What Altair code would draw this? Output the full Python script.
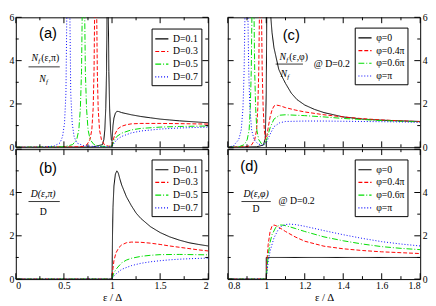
import altair as alt
import pandas as pd

W, H = 197, 133
SERIF = "Liberation Serif"
SANS = "Liberation Sans"

LAB_D = ["D=0.1", "D=0.3", "D=0.5", "D=0.7"]
LAB_P = ["φ=0", "φ=0.4π", "φ=0.6π", "φ=π"]
COLORS = ["#000000", "#ff0000", "#00dd00", "#0000ff"]
DASHES = [[1, 0], [4, 2], [6, 2, 1, 2], [1, 2]]

# ---------- panel (a): N_f(e,pi)/N_f ----------
a_x_01 = [0.0, 0.8, 0.9, 0.915, 0.925, 0.935, 0.943, 0.949, 0.955, 0.961, 0.967, 0.975, 0.985, 0.993, 1.0, 1.01, 1.02, 1.035, 1.05, 1.07, 1.1, 1.2, 1.3, 1.4, 1.5, 1.6, 1.7, 1.8, 1.9, 2.0]
a_y_01 = [0.0, 0.01, 0.12, 0.35, 0.8, 1.8, 3.5, 6.5, 10.0, 6.5, 3.5, 1.8, 0.8, 0.35, 0.3, 1.0, 1.35, 1.57, 1.66, 1.65, 1.6, 1.5, 1.42, 1.36, 1.3, 1.26, 1.22, 1.19, 1.16, 1.13]
a_x_03 = [0.0, 0.65, 0.7, 0.74, 0.77, 0.79, 0.804, 0.813, 0.82, 0.83, 0.84, 0.847, 0.856, 0.87, 0.89, 0.92, 0.96, 1.0, 1.01, 1.03, 1.06, 1.1, 1.15, 1.2, 1.3, 1.5, 1.7, 2.0]
a_y_03 = [0.0, 0.02, 0.04, 0.12, 0.35, 0.8, 1.8, 3.5, 6.5, 10.0, 6.5, 3.5, 1.8, 0.8, 0.35, 0.12, 0.05, 0.05, 0.3, 0.6, 0.85, 0.97, 1.04, 1.08, 1.1, 1.1, 1.09, 1.07]
a_x_05 = [0.0, 0.5, 0.59, 0.633, 0.655, 0.671, 0.683, 0.691, 0.703, 0.715, 0.723, 0.735, 0.751, 0.773, 0.813, 0.87, 0.95, 1.0, 1.02, 1.05, 1.1, 1.2, 1.3, 1.5, 1.7, 2.0]
a_y_05 = [0.0, 0.02, 0.12, 0.35, 0.8, 1.8, 3.5, 6.5, 10.0, 6.5, 3.5, 1.8, 0.8, 0.35, 0.12, 0.05, 0.03, 0.05, 0.3, 0.5, 0.65, 0.8, 0.87, 0.93, 0.96, 0.98]
a_x_07 = [0.0, 0.3, 0.4, 0.46, 0.486, 0.506, 0.521, 0.531, 0.546, 0.561, 0.571, 0.586, 0.606, 0.632, 0.7, 0.8, 0.9, 1.0, 1.02, 1.05, 1.1, 1.2, 1.3, 1.5, 1.7, 2.0]
a_y_07 = [0.0, 0.01, 0.06, 0.2, 0.5, 1.1, 2.5, 6.5, 10.0, 6.5, 2.5, 1.1, 0.5, 0.2, 0.08, 0.04, 0.03, 0.03, 0.18, 0.35, 0.5, 0.66, 0.75, 0.84, 0.89, 0.93]

# ---------- panel (b): D(e,pi)/D ----------
b_x_01 = [0.0, 1.0, 1.005, 1.01, 1.02, 1.035, 1.05, 1.065, 1.08, 1.1, 1.15, 1.2, 1.25, 1.3, 1.4, 1.5, 1.6, 1.7, 1.8, 1.9, 2.0]
b_y_01 = [0.0, 0.0, 2.0, 3.3, 4.3, 4.85, 5.0, 4.9, 4.65, 4.35, 3.8, 3.4, 3.05, 2.8, 2.42, 2.15, 1.95, 1.8, 1.68, 1.6, 1.53]
b_x_03 = [0.0, 1.0, 1.01, 1.02, 1.04, 1.07, 1.1, 1.15, 1.2, 1.3, 1.4, 1.5, 1.6, 1.7, 1.8, 1.9, 2.0]
b_y_03 = [0.0, 0.0, 0.5, 0.85, 1.2, 1.45, 1.58, 1.68, 1.71, 1.7, 1.66, 1.6, 1.53, 1.47, 1.41, 1.35, 1.3]
b_x_05 = [0.0, 1.0, 1.02, 1.05, 1.1, 1.15, 1.2, 1.3, 1.4, 1.5, 1.7, 1.85, 2.0]
b_y_05 = [0.0, 0.0, 0.3, 0.5, 0.75, 0.88, 0.96, 1.05, 1.1, 1.13, 1.14, 1.13, 1.12]
b_x_07 = [0.0, 1.0, 1.02, 1.05, 1.1, 1.2, 1.3, 1.4, 1.5, 1.6, 1.7, 1.85, 2.0]
b_y_07 = [0.0, 0.0, 0.15, 0.27, 0.45, 0.62, 0.73, 0.8, 0.85, 0.89, 0.92, 0.95, 0.97]

# ---------- panel (c): N_f(e,phi)/N_f @ D=0.2 ----------
c_x_0 = [0.8, 0.95, 0.985, 0.995, 1.0, 1.004, 1.015, 1.022, 1.03, 1.04, 1.05, 1.065, 1.08, 1.1, 1.13, 1.16, 1.2, 1.25, 1.3, 1.4, 1.5, 1.6, 1.7, 1.8]
c_y_0 = [0.0, 0.02, 0.1, 0.4, 2.5, 8.0, 7.5, 6.2, 5.3, 4.6, 4.2, 3.6, 3.3, 2.95, 2.5, 2.2, 1.95, 1.75, 1.6, 1.4, 1.3, 1.25, 1.22, 1.19]
c_x_04 = [0.8, 0.9, 0.925, 0.94, 0.95, 0.956, 0.961, 0.965, 0.97, 0.975, 0.979, 0.984, 0.99, 0.996, 1.0, 1.01, 1.02, 1.03, 1.04, 1.05, 1.07, 1.1, 1.15, 1.2, 1.3, 1.4, 1.5, 1.6, 1.7, 1.8]
c_y_04 = [0.0, 0.03, 0.12, 0.35, 0.8, 1.8, 3.5, 6.5, 10.0, 6.5, 3.5, 1.8, 0.8, 0.4, 0.35, 0.9, 1.4, 1.72, 1.9, 1.95, 1.92, 1.83, 1.72, 1.63, 1.5, 1.4, 1.32, 1.26, 1.22, 1.18]
c_x_06 = [0.8, 0.86, 0.886, 0.901, 0.911, 0.917, 0.922, 0.926, 0.931, 0.936, 0.94, 0.945, 0.951, 0.961, 0.976, 0.99, 1.0, 1.02, 1.04, 1.07, 1.1, 1.2, 1.3, 1.4, 1.5, 1.6, 1.7, 1.8]
c_y_06 = [0.0, 0.03, 0.12, 0.35, 0.8, 1.8, 3.5, 6.5, 10.0, 6.5, 3.5, 1.8, 0.8, 0.35, 0.15, 0.12, 0.3, 0.9, 1.3, 1.48, 1.5, 1.46, 1.4, 1.33, 1.28, 1.23, 1.2, 1.17]
c_x_pi = [0.8, 0.83, 0.837, 0.857, 0.87, 0.879, 0.885, 0.89, 0.897, 0.904, 0.909, 0.915, 0.924, 0.937, 0.957, 0.98, 1.0, 1.02, 1.04, 1.07, 1.1, 1.2, 1.3, 1.4, 1.5, 1.6, 1.7, 1.8]
c_y_pi = [0.01, 0.06, 0.15, 0.35, 0.8, 1.8, 3.5, 6.5, 10.0, 6.5, 3.5, 1.8, 0.8, 0.35, 0.15, 0.1, 0.2, 0.6, 0.95, 1.13, 1.19, 1.21, 1.21, 1.2, 1.19, 1.18, 1.17, 1.15]

# ---------- panel (d): D(e,phi)/D @ D=0.2 ----------
d_x_0 = [0.8, 1.0, 1.0, 1.8]
d_y_0 = [0.0, 0.0, 1.0, 1.0]
d_x_04 = [0.8, 1.0, 1.005, 1.01, 1.02, 1.03, 1.04, 1.05, 1.07, 1.1, 1.15, 1.2, 1.3, 1.4, 1.5, 1.6, 1.7, 1.8]
d_y_04 = [0.0, 0.0, 1.0, 1.6, 2.2, 2.45, 2.5, 2.47, 2.37, 2.2, 1.95, 1.75, 1.52, 1.4, 1.32, 1.26, 1.22, 1.18]
d_x_06 = [0.8, 1.0, 1.005, 1.01, 1.02, 1.03, 1.05, 1.07, 1.09, 1.12, 1.15, 1.2, 1.3, 1.4, 1.5, 1.6, 1.7, 1.8]
d_y_06 = [0.0, 0.0, 0.6, 1.1, 1.7, 2.05, 2.4, 2.5, 2.49, 2.42, 2.34, 2.2, 1.95, 1.77, 1.62, 1.5, 1.42, 1.36]
d_x_pi = [0.8, 1.0, 1.005, 1.01, 1.02, 1.04, 1.06, 1.08, 1.1, 1.12, 1.15, 1.2, 1.3, 1.4, 1.5, 1.6, 1.7, 1.8]
d_y_pi = [0.0, 0.0, 0.4, 0.8, 1.3, 1.9, 2.25, 2.45, 2.52, 2.54, 2.52, 2.44, 2.24, 2.05, 1.88, 1.73, 1.62, 1.53]

# tick positions
X1_MAJ = [0, 0.5, 1, 1.5, 2]
X1_MIN = [0.25, 0.75, 1.25, 1.75]
X2_MAJ = [0.8, 1.0, 1.2, 1.4, 1.6, 1.8]
X2_MIN = [0.9, 1.1, 1.3, 1.5, 1.7]
Y_MAJ = [0, 2, 4, 6]
Y_MIN = [1, 3, 5]

SY = H / 139.0


def long_df(xs_list, ys_list, labels):
    rows = []
    for xs, ys, lab in zip(xs_list, ys_list, labels):
        for i, (x, y) in enumerate(zip(xs, ys)):
            rows.append({"x": x, "y": y, "s": lab, "i": i})
    return pd.DataFrame(rows)


def txt(t, x, y, size=10, style="normal", align="left", font=SERIF):
    return alt.Chart(pd.DataFrame({"t": [t]})).mark_text(
        align=align, baseline="middle", font=font, fontSize=size,
        fontStyle=style, color="black"
    ).encode(x=alt.value(x), y=alt.value(y * SY), text="t:N")


def hline(x1, x2, y):
    return alt.Chart(pd.DataFrame({"k": [0]})).mark_rule(color="black", strokeWidth=0.8).encode(
        x=alt.value(x1), x2=alt.value(x2), y=alt.value(y * SY))


def panel(df, labels, xdom, xmaj, xmin, ylab, yorient, bottom, leg, annots):
    xscale = alt.Scale(domain=xdom, nice=False, zero=False)
    yscale = alt.Scale(domain=[0, 6], nice=False, zero=False)
    if bottom:
        xaxis = alt.Axis(values=xmaj, format="~g", ticks=False, domain=False, grid=False,
                         labelFont=SERIF, labelFontSize=10, labelColor="black", labelPadding=2,
                         title="ε / Δ", titleFont=SERIF, titleFontSize=11, titleFontWeight="normal",
                         titleColor="black", titlePadding=1)
    else:
        xaxis = alt.Axis(labels=False, ticks=False, domain=False, grid=False, title=None)
    yaxis = alt.Axis(values=ylab, format="~g", orient=yorient, ticks=False, domain=False, grid=False,
                     labelFont=SERIF, labelFontSize=10, labelColor="black", labelPadding=2, title=None)
    legend = alt.Legend(title=None, orient="none", legendX=leg[0], legendY=leg[1] * SY,
                        strokeColor="black", fillColor="white", padding=3,
                        labelFont=SERIF, labelFontSize=10, labelColor="black",
                        symbolType="stroke", symbolSize=180, symbolStrokeWidth=1.2,
                        rowPadding=0, labelOffset=4)
    lines = alt.Chart(df).mark_line(clip=True, strokeWidth=1).encode(
        x=alt.X("x:Q", scale=xscale, axis=xaxis),
        y=alt.Y("y:Q", scale=yscale, axis=yaxis),
        color=alt.Color("s:N", scale=alt.Scale(domain=labels, range=COLORS), legend=legend),
        strokeDash=alt.StrokeDash("s:N", scale=alt.Scale(domain=labels, range=DASHES), legend=legend),
        order=alt.Order("i:Q"),
    )
    layers = [lines]
    for vals, ln in ((xmaj, 6), (xmin, 3)):
        d = pd.DataFrame({"x": vals})
        layers.append(alt.Chart(d).mark_rule(color="black", strokeWidth=1).encode(
            x=alt.X("x:Q", scale=xscale, axis=xaxis), y=alt.value(H), y2=alt.value(H - ln)))
        layers.append(alt.Chart(d).mark_rule(color="black", strokeWidth=1).encode(
            x=alt.X("x:Q", scale=xscale, axis=xaxis), y=alt.value(0), y2=alt.value(ln)))
    for vals, ln in ((Y_MAJ, 6), (Y_MIN, 3)):
        d = pd.DataFrame({"y": vals})
        layers.append(alt.Chart(d).mark_rule(color="black", strokeWidth=1).encode(
            y=alt.Y("y:Q", scale=yscale, axis=yaxis), x=alt.value(0), x2=alt.value(ln)))
        layers.append(alt.Chart(d).mark_rule(color="black", strokeWidth=1).encode(
            y=alt.Y("y:Q", scale=yscale, axis=yaxis), x=alt.value(W - ln), x2=alt.value(W)))
    layers += annots
    return alt.layer(*layers).properties(width=W, height=H)


df_a = long_df([a_x_01, a_x_03, a_x_05, a_x_07], [a_y_01, a_y_03, a_y_05, a_y_07], LAB_D)
df_b = long_df([b_x_01, b_x_03, b_x_05, b_x_07], [b_y_01, b_y_03, b_y_05, b_y_07], LAB_D)
df_c = long_df([c_x_0, c_x_04, c_x_06, c_x_pi], [c_y_0, c_y_04, c_y_06, c_y_pi], LAB_P)
df_d = long_df([d_x_0, d_x_04, d_x_06, d_x_pi], [d_y_0, d_y_04, d_y_06, d_y_pi], LAB_P)

ann_a = [
    txt("(a)", 33, 17, size=15, align="center", font=SANS),
    txt("N", 16, 44, style="italic"), txt("f", 23, 47, size=7, style="italic"), txt("(ε,π)", 26, 44),
    hline(13, 45, 53),
    txt("N", 24, 66, style="italic"), txt("f", 31, 69, size=7, style="italic"),
]
ann_b = [
    txt("(b)", 33, 20, size=15, align="center", font=SANS),
    txt("D(ε,π)", 28, 48, align="center", style="italic"),
    hline(13, 45, 56),
    txt("D", 28, 67, align="center"),
]
ann_c = [
    txt("(c)", 65, 19, size=15, align="center", font=SANS),
    txt("N", 53, 43, style="italic"), txt("f", 60, 46, size=7, style="italic"), txt("(ε,φ)", 63, 43),
    hline(49, 77, 50),
    txt("N", 54, 61, style="italic"), txt("f", 61, 64, size=7, style="italic"),
    txt("@  D=0.2", 88, 50),
]
ann_d = [
    txt("(d)", 22, 18, size=15, align="center", font=SANS),
    txt("D(ε,φ)", 29, 48, align="center", style="italic"),
    hline(14, 44, 56),
    txt("D", 29, 64, align="center"),
    txt("@  D=0.2", 52, 55),
]

pa = panel(df_a, LAB_D, [0, 2], X1_MAJ, X1_MIN, [0, 2, 4, 6], "left", False, (139, 12), ann_a)
pb = panel(df_b, LAB_D, [0, 2], X1_MAJ, X1_MIN, [0, 2, 4], "left", True, (139, 11), ann_b)
pc = panel(df_c, LAB_P, [0.8, 1.8], X2_MAJ, X2_MIN, [0, 2, 4, 6], "right", False, (130, 11), ann_c)
pd_ = panel(df_d, LAB_P, [0.8, 1.8], X2_MAJ, X2_MIN, [0, 2, 4], "right", True, (130, 11), ann_d)

left = alt.vconcat(pa, pb, spacing=2, bounds="flush").resolve_scale(color="independent", strokeDash="independent")
right = alt.vconcat(pc, pd_, spacing=2, bounds="flush").resolve_scale(color="independent", strokeDash="independent")
chart = alt.hconcat(left, right, spacing=18).resolve_scale(
    color="independent", strokeDash="independent"
).properties(padding=0).configure_view(stroke="black", strokeWidth=1).configure_axis(
    labelFont=SERIF, titleFont=SERIF
).configure_legend(labelFont=SERIF)

chart.save("out.html", embed_options={"renderer": "svg", "actions": False})
